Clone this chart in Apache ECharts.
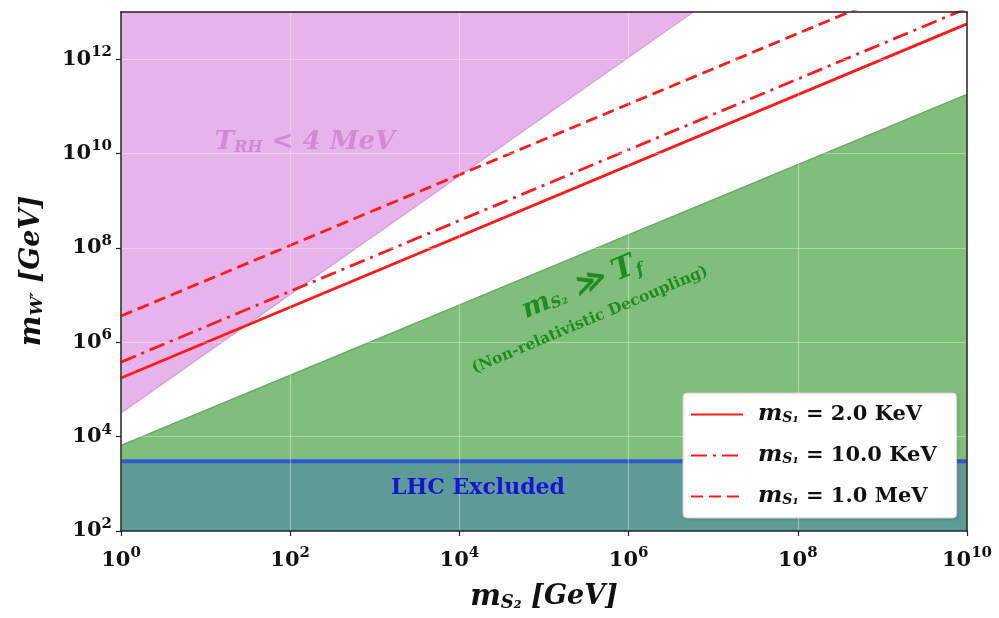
<!DOCTYPE html>
<html>
<head>
<meta charset="utf-8">
<script src="https://cdn.jsdelivr.net/npm/echarts@6/dist/echarts.min.js"></script>
<style>html,body{margin:0;padding:0;background:#fff}#c{width:999px;height:618px}</style>
</head>
<body>
<div id="c"></div>
<script>
// ---- data ----
const lineX = [1, 1e10];                       // m_S2 [GeV]
const mW_2keV = [1.75e5, 5.6e12];              // m_S1 = 2.0 KeV (solid)
const mW_10keV = [3.8e5, 1.2e13];              // m_S1 = 10.0 KeV (dash-dot)
const mW_1MeV = [3.6e6, 1.1e14];               // m_S1 = 1.0 MeV (dashed)
const trhX = [1, 5.8e6];                       // T_RH < 4 MeV boundary
const trhY = [3.2e4, 1e13];
const nrX = [1, 1e10];                         // non-relativistic decoupling boundary
const nrY = [6.5e3, 1.8e11];
const lhcX = [1, 1e10];                        // LHC exclusion
const lhcY = [3000, 3000];
const xTickExp = [0, 2, 4, 6, 8, 10];
const yTickExp = [2, 4, 6, 8, 10, 12];
const seriesNames = ['mS1 = 2.0 KeV', 'mS1 = 10.0 KeV', 'mS1 = 1.0 MeV'];

const pairs = (xs, ys) => xs.map((x, i) => [x, ys[i]]);
const SERIF = "'DejaVu Serif', serif";
const expLabel = v => '{b|10}{s|' + Math.round(Math.log10(v)) + '}';
const tickRich = {
  b: {fontFamily: SERIF, fontWeight: 'bold', fontSize: 21, color: '#111'},
  s: {fontFamily: SERIF, fontWeight: 'bold', fontSize: 15, color: '#111', padding: [0, 0, 14, 0]}
};
const xVals = xTickExp.map(e => Math.pow(10, e));
const yVals = yTickExp.map(e => Math.pow(10, e));
const RED = '#ff1a1a';

const chart = echarts.init(document.getElementById('c'), null, {renderer: 'canvas'});
const option = {
  backgroundColor: '#fff',
  animation: false,
  grid: {left: 121, right: 32, top: 12, bottom: 87},
  xAxis: [{
    type: 'log', min: 1, max: 1e10, interval: 2, z: 5,
    axisLine: {show: true, lineStyle: {color: '#222', width: 1.5}},
    axisTick: {show: true, length: 5, lineStyle: {color: '#222', width: 1.2}, customValues: xVals},
    axisLabel: {customValues: xVals, formatter: expLabel, rich: tickRich, margin: 15},
    splitLine: {show: true, lineStyle: {color: 'rgba(255,255,255,0.35)', width: 1.2}},
    minorTick: {show: false}
  }, {
    type: 'log', min: 1, max: 1e10, position: 'top', z: 5,
    axisLine: {show: true, lineStyle: {color: '#222', width: 1.5}},
    axisTick: {show: false}, axisLabel: {show: false}, splitLine: {show: false}
  }],
  yAxis: [{
    type: 'log', min: 100, max: 1e13, interval: 2, z: 5,
    axisLine: {show: true, lineStyle: {color: '#222', width: 1.5}},
    axisTick: {show: true, length: 5, lineStyle: {color: '#222', width: 1.2}, customValues: yVals},
    axisLabel: {customValues: yVals, formatter: expLabel, rich: tickRich, margin: 9},
    splitLine: {show: true, lineStyle: {color: 'rgba(255,255,255,0.35)', width: 1.2}}
  }, {
    type: 'log', min: 100, max: 1e13, position: 'right', z: 5,
    axisLine: {show: true, lineStyle: {color: '#222', width: 1.5}},
    axisTick: {show: false}, axisLabel: {show: false}, splitLine: {show: false}
  }],
  legend: {
    data: seriesNames,
    left: 683, top: 393, orient: 'vertical',
    itemWidth: 52, itemHeight: 14, itemGap: 18,
    padding: [10, 20, 10, 7],
    backgroundColor: '#fff', borderColor: '#d8d8d8', borderWidth: 1, borderRadius: 4,
    shadowColor: 'rgba(0,0,0,0.15)', shadowBlur: 3, shadowOffsetX: 1, shadowOffsetY: 1,
    itemStyle: {opacity: 0},
    formatter: n => '{m|m}{s|S₁}{t|' + n.replace('mS1', '') + '}',
    textStyle: {
      rich: {
        m: {fontFamily: SERIF, fontWeight: 'bold', fontStyle: 'italic', fontSize: 23, color: '#111', padding: [0, 0, 0, 10]},
        s: {fontFamily: SERIF, fontWeight: 'bold', fontStyle: 'italic', fontSize: 14, color: '#111', padding: [8, 0, 0, 0]},
        t: {fontFamily: SERIF, fontWeight: 'bold', fontSize: 21, color: '#111'}
      }
    }
  },
  series: [
    {
      name: 'trh', type: 'line', data: pairs(trhX, trhY), symbol: 'none', z: 1,
      lineStyle: {color: '#d9a0dc', width: 1.5},
      areaStyle: {origin: 'end', color: '#e6b3ea', opacity: 1}
    },
    {
      name: 'nr', type: 'line', data: pairs(nrX, nrY), symbol: 'none', z: 1,
      lineStyle: {color: '#6aaa66', width: 1.5},
      areaStyle: {origin: 'start', color: '#80bf7b', opacity: 1}
    },
    {
      name: 'lhc', type: 'line', data: pairs(lhcX, lhcY), symbol: 'none', z: 2,
      lineStyle: {color: '#2f55d0', width: 4},
      areaStyle: {origin: 'start', color: '#5f9b96', opacity: 1}
    },
    {
      name: seriesNames[0], type: 'line', data: pairs(lineX, mW_2keV), symbol: 'none', z: 3,
      itemStyle: {color: RED},
      lineStyle: {color: RED, width: 2.8, type: 'solid'}
    },
    {
      name: seriesNames[1], type: 'line', data: pairs(lineX, mW_10keV), symbol: 'none', z: 3,
      itemStyle: {color: RED},
      lineStyle: {color: RED, width: 2.8, type: [16, 6, 3, 6]}
    },
    {
      name: seriesNames[2], type: 'line', data: pairs(lineX, mW_1MeV), symbol: 'none', z: 3,
      itemStyle: {color: RED},
      lineStyle: {color: RED, width: 2.8, type: [12, 6]}
    }
  ],
  graphic: [
    {
      type: 'text', x: 32, y: 271, rotation: Math.PI / 2, z: 10,
      style: {
        text: '{m|m}{s|W′}{t| [GeV]}', align: 'center', verticalAlign: 'middle',
        textAlign: 'center', textVerticalAlign: 'middle',
        rich: {
          m: {fontFamily: SERIF, fontWeight: 'bold', fontStyle: 'italic', fontSize: 29, fill: '#111'},
          s: {fontFamily: SERIF, fontWeight: 'bold', fontStyle: 'italic', fontSize: 17, fill: '#111', padding: [12, 0, 0, 0]},
          t: {fontFamily: SERIF, fontWeight: 'bold', fontStyle: 'italic', fontSize: 27, fill: '#111'}
        }
      }
    },
    {
      type: 'text', x: 544, y: 597, z: 10,
      style: {
        text: '{m|m}{s|S₂}{t| [GeV]}', align: 'center', verticalAlign: 'middle',
        textAlign: 'center', textVerticalAlign: 'middle',
        rich: {
          m: {fontFamily: SERIF, fontWeight: 'bold', fontStyle: 'italic', fontSize: 29, fill: '#111'},
          s: {fontFamily: SERIF, fontWeight: 'bold', fontStyle: 'italic', fontSize: 18, fill: '#111', padding: [12, 0, 0, 0]},
          t: {fontFamily: SERIF, fontWeight: 'bold', fontStyle: 'italic', fontSize: 27, fill: '#111'}
        }
      }
    },
    {
      type: 'text', x: 305, y: 142, z: 10,
      style: {
        text: '{m|T}{s|RH}{t| < 4 MeV}', align: 'center', verticalAlign: 'middle',
        textAlign: 'center', textVerticalAlign: 'middle',
        rich: {
          m: {fontFamily: SERIF, fontWeight: 'bold', fontStyle: 'italic', fontSize: 26, fill: '#d18bd6'},
          s: {fontFamily: SERIF, fontWeight: 'bold', fontStyle: 'italic', fontSize: 16, fill: '#d18bd6', padding: [12, 0, 0, 0]},
          t: {fontFamily: SERIF, fontWeight: 'bold', fontStyle: 'italic', fontSize: 26, fill: '#d18bd6'}
        }
      }
    },
    {
      type: 'text', x: 582, y: 287, rotation: 0.398, z: 10,
      style: {
        text: '{m|m}{s|S₂}{t| ≫ T}{f|f}', align: 'center', verticalAlign: 'middle',
        textAlign: 'center', textVerticalAlign: 'middle',
        rich: {
          m: {fontFamily: SERIF, fontWeight: 'bold', fontStyle: 'italic', fontSize: 27, fill: '#1f8c1f'},
          s: {fontFamily: SERIF, fontWeight: 'bold', fontStyle: 'italic', fontSize: 15, fill: '#1f8c1f', padding: [10, 0, 0, 0]},
          t: {fontFamily: SERIF, fontWeight: 'bold', fontStyle: 'italic', fontSize: 30, fill: '#1f8c1f'},
          f: {fontFamily: SERIF, fontWeight: 'bold', fontStyle: 'italic', fontSize: 17, fill: '#1f8c1f', padding: [14, 0, 0, 0]}
        }
      }
    },
    {
      type: 'text', x: 590, y: 320, rotation: 0.398, z: 10,
      style: {
        text: '(Non-relativistic Decoupling)', align: 'center', verticalAlign: 'middle',
        textAlign: 'center', textVerticalAlign: 'middle',
        fontFamily: SERIF, fontWeight: 'bold', fontSize: 15.5, fill: '#1f8c1f'
      }
    },
    {
      type: 'text', x: 478, y: 488, z: 10,
      style: {
        text: 'LHC Excluded', align: 'center', verticalAlign: 'middle',
        textAlign: 'center', textVerticalAlign: 'middle',
        fontFamily: SERIF, fontWeight: 'bold', fontSize: 22, fill: '#1515d8'
      }
    }
  ]
};
chart.setOption(option);
</script>
</body>
</html>
